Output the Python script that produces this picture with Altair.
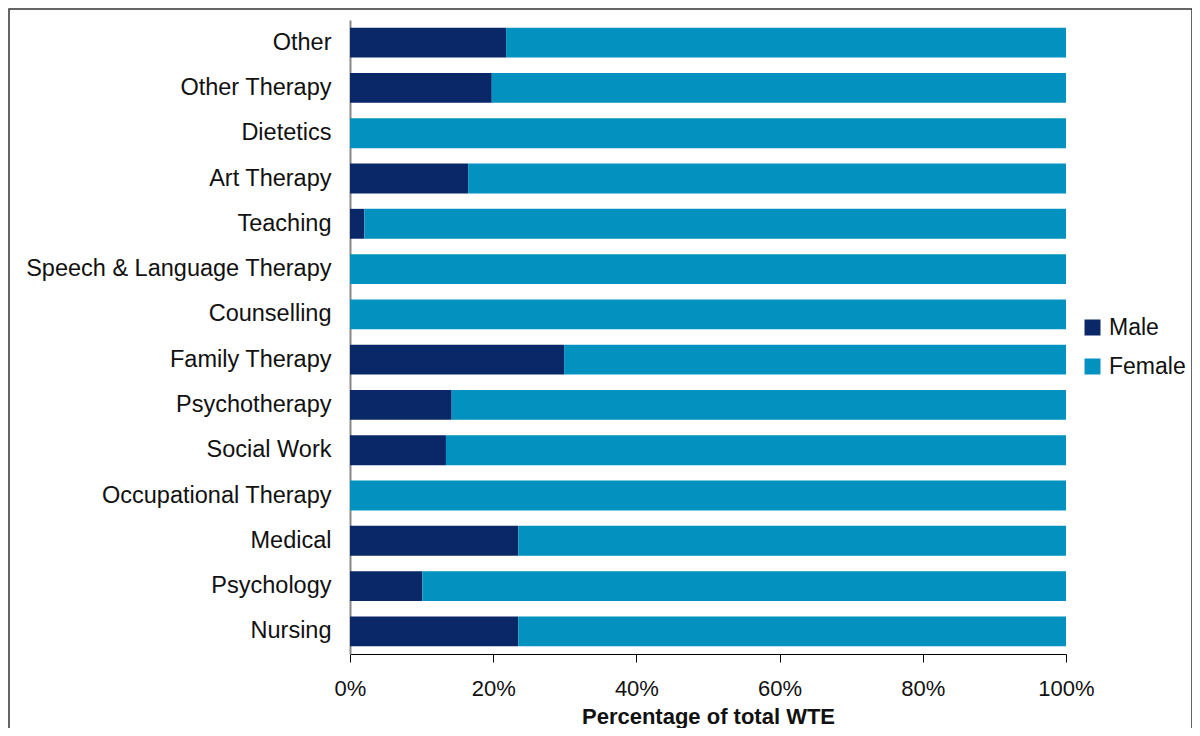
import altair as alt
import pandas as pd

categories = ["Other", "Other Therapy", "Dietetics", "Art Therapy", "Teaching",
              "Speech & Language Therapy", "Counselling", "Family Therapy",
              "Psychotherapy", "Social Work", "Occupational Therapy", "Medical ",
              "Psychology", "Nursing"]
male = [21.8, 19.8, 0, 16.5, 2.0, 0, 0, 29.9, 14.2, 13.4, 0, 23.5, 10.1, 23.5]
female = [100 - m for m in male]
series = ["Male", "Female"]
colors = ["#0a2868", "#0391c0"]
ticks = [0, 20, 40, 60, 80, 100]

rows = []
for c, m, f in zip(categories, male, female):
    rows.append({"cat": c, "sex": "Male", "val": m, "ord": 0})
    rows.append({"cat": c, "sex": "Female", "val": f, "ord": 1})
df = pd.DataFrame(rows)

bars = alt.Chart(df).mark_bar().encode(
    y=alt.Y("cat:N", sort=categories, title=None,
            scale=alt.Scale(paddingInner=0.34, paddingOuter=0.17),
            axis=alt.Axis(labelFontSize=23.5, labelColor="#111", labelFont="Liberation Sans",
                          labelLimit=400,
                          ticks=False, labelPadding=19, domainColor="#888", domainWidth=2)),
    x=alt.X("val:Q", stack="normalize", title="Percentage of total WTE",
            scale=alt.Scale(domain=[0, 1], nice=False),
            axis=alt.Axis(format="%", values=[t / 100 for t in ticks], grid=False,
                          tickSize=8, tickColor="#000", domainColor="#000",
                          labelFlush=False, labelBound=False,
                          labelFontSize=22, labelColor="#111", labelFont="Liberation Sans",
                          labelPadding=16, titleFontSize=22, titleFont="Liberation Sans",
                          titleFontWeight="bold", titleColor="#111", titlePadding=7)),
    color=alt.Color("sex:N", scale=alt.Scale(domain=series, range=colors), sort=series,
                    legend=alt.Legend(title=None, orient="none", legendX=731, legendY=296,
                                      symbolType="square", symbolSize=256,
                                      symbolStrokeWidth=0, labelFontSize=23,
                                      labelFont="Liberation Sans", labelColor="#111",
                                      rowPadding=15, labelOffset=5)),
    order=alt.Order("ord:Q"),
)

frame = alt.Chart(pd.DataFrame({"a": [0]})).mark_rect(
    fill=None, stroke="#333", strokeWidth=1.5
).encode(
    x=alt.value(-341), x2=alt.value(842), y=alt.value(-11), y2=alt.value(740)
)

chart = alt.layer(frame, bars).properties(
    width=716, height=634,
    autosize=alt.AutoSizeParams(type="none"),
    padding={"left": 342, "top": 12, "right": 126, "bottom": 74},
).configure_view(stroke=None)

chart.save("out.html", embed_options={"renderer": "svg", "actions": False})
